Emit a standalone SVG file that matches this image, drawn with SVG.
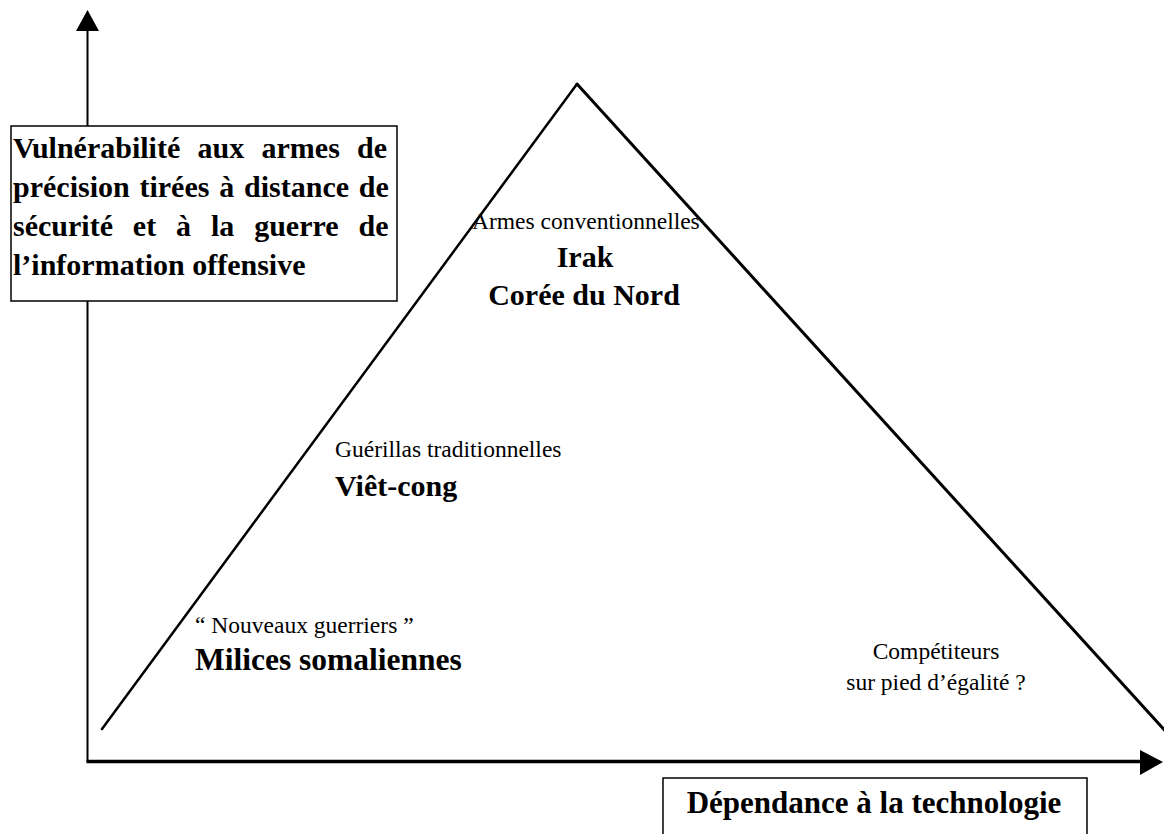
<svg xmlns="http://www.w3.org/2000/svg" width="1164" height="834" viewBox="0 0 1164 834">
  <style>
    .reg { font-family: "Liberation Serif", "Times New Roman", serif; font-size: 23.5px; fill: #000; }
    .bold { font-family: "Liberation Serif", "Times New Roman", serif; font-size: 30px; font-weight: bold; fill: #000; }
    .box { fill: #fff; stroke: #000; stroke-width: 1.5; }
    .tri { fill: none; stroke: #000; stroke-linecap: round; }
  </style>
  <rect x="0" y="0" width="1164" height="834" fill="#fff"/>

  <g id="connectors">
    <line x1="87.5" y1="30" x2="87.5" y2="762" stroke="#000" stroke-width="2"/>
    <polygon points="76,31 87.5,10 99,31" fill="#000"/>
    <line x1="86.5" y1="761.5" x2="1141" y2="761.5" stroke="#000" stroke-width="3.5"/>
    <polygon points="1140,750 1163,762 1140,775" fill="#000"/>
  </g>

  <g id="triangle">
    <line class="tri" x1="102" y1="729" x2="577" y2="84" stroke-width="2.5"/>
    <line class="tri" x1="577" y1="84" x2="1168" y2="734" stroke-width="3"/>
  </g>

  <g id="y-axis-label">
    <rect class="box" x="11" y="126" width="386" height="175"/>
    <text class="bold" x="13" y="158" word-spacing="9.8">Vulnérabilité aux armes de</text>
    <text class="bold" x="13" y="197" word-spacing="2.3">précision tirées à distance de</text>
    <text class="bold" x="13" y="236" word-spacing="12.4">sécurité et à la guerre de</text>
    <text class="bold" x="13" y="275">l’information offensive</text>
  </g>

  <g id="x-axis-label">
    <rect class="box" x="663" y="778" width="424" height="80"/>
    <text class="bold" x="874" y="813" text-anchor="middle" style="font-size:31px">Dépendance à la technologie</text>
  </g>

  <g id="conventional">
    <text class="reg" x="472" y="229">Armes conventionnelles</text>
    <text class="bold" x="585" y="267" text-anchor="middle">Irak</text>
    <text class="bold" x="584" y="305" text-anchor="middle">Corée du Nord</text>
  </g>

  <g id="guerrillas">
    <text class="reg" x="335" y="457">Guérillas traditionnelles</text>
    <text class="bold" x="335" y="496">Viêt-cong</text>
  </g>

  <g id="new-warriors">
    <text class="reg" x="195" y="633">“ Nouveaux guerriers ”</text>
    <text class="bold" x="195" y="670" style="font-size:31.5px">Milices somaliennes</text>
  </g>

  <g id="peer-competitors">
    <text class="reg" x="936" y="659" text-anchor="middle">Compétiteurs</text>
    <text class="reg" x="936" y="690" text-anchor="middle">sur pied d’égalité ?</text>
  </g>
</svg>
